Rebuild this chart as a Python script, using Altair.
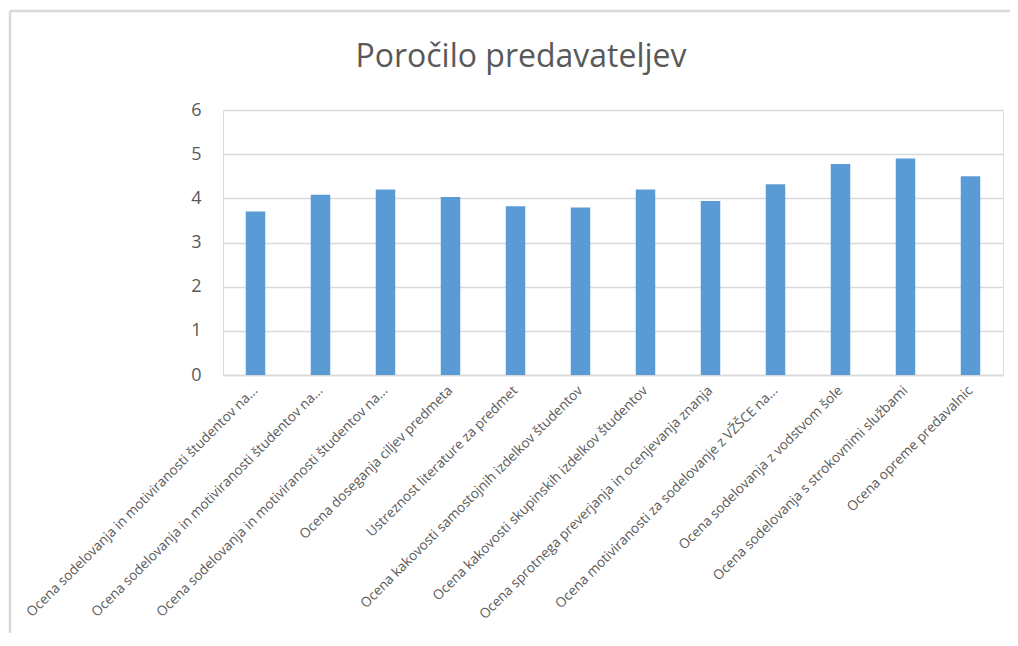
import json
import altair as alt
import pandas as pd

title_text = "Poročilo predavateljev"

labels = [
    "Ocena sodelovanja in motiviranosti študentov na...",
    "Ocena sodelovanja in motiviranosti študentov na...",
    "Ocena sodelovanja in motiviranosti študentov na...",
    "Ocena doseganja ciljev predmeta",
    "Ustreznost literature za predmet",
    "Ocena kakovosti samostojnih izdelkov študentov",
    "Ocena kakovosti skupinskih izdelkov študentov",
    "Ocena sprotnega preverjanja in ocenjevanja znanja",
    "Ocena motiviranosti za sodelovanje z VŽŠCE na...",
    "Ocena sodelovanja z vodstvom šole",
    "Ocena sodelovanja s strokovnimi službami",
    "Ocena opreme predavalnic",
]

values = [3.70, 4.08, 4.20, 4.03, 3.82, 3.79, 4.20, 3.94, 4.32, 4.78, 4.90, 4.50]

y_ticks = [0, 1, 2, 3, 4, 5, 6]

df = pd.DataFrame({"idx": list(range(len(labels))), "label": labels, "value": values})

label_expr = json.dumps(labels) + "[datum.value]"

FONT = "Open Sans"
TEXT_COLOR = "#595959"
GRID = "#d9d9d9"

bars = alt.Chart(df).mark_bar(color="#5b9bd5").encode(
    x=alt.X(
        "idx:O",
        sort=None,
        scale=alt.Scale(paddingInner=0.7, paddingOuter=0.35),
        axis=alt.Axis(
            title=None,
            labelExpr=label_expr,
            labelAngle=-45,
            labelAlign="right",
            labelBaseline="middle",
            labelPadding=13,
            labelFontSize=13.6,
            labelFont=FONT,
            labelColor=TEXT_COLOR,
            labelOverlap=False,
            labelLimit=400,
            ticks=False,
            domain=True,
            domainColor=GRID,
            domainWidth=1.5,
            grid=False,
        ),
    ),
    y=alt.Y(
        "value:Q",
        scale=alt.Scale(domain=[0, 6], nice=False),
        axis=alt.Axis(
            title=None,
            values=y_ticks,
            labelFontSize=18,
            labelFont=FONT,
            labelColor=TEXT_COLOR,
            labelPadding=22,
            ticks=False,
            domain=False,
            grid=True,
            gridColor=GRID,
            gridWidth=1.5,
        ),
    ),
)

frame_df = pd.DataFrame({"k": [0]})
left_line = alt.Chart(frame_df).mark_rule(color="#d9d9d9", strokeWidth=2.5).encode(
    x=alt.value(-213), y=alt.value(-99), y2=alt.value(540)
)
top_line = alt.Chart(frame_df).mark_rule(color="#d9d9d9", strokeWidth=2.5).encode(
    x=alt.value(-213), x2=alt.value(800), y=alt.value(-99)
)

chart = (
    alt.layer(bars, left_line, top_line)
    .properties(
        width=780,
        height=265,
        autosize=alt.AutoSizeParams(type="none"),
        padding={"left": 215, "top": 102, "right": 7, "bottom": 258},
        title=alt.TitleParams(
            text=title_text,
            font=FONT,
            fontSize=32,
            fontWeight="normal",
            color=TEXT_COLOR,
            anchor="middle",
            frame="group",
            dx=-92,
            dy=89,
            baseline="alphabetic",
            offset=0,
        ),
    )
    .configure_view(stroke=None)
    .configure(background="white")
)

chart.save("out.html", embed_options={"renderer": "svg", "actions": False})
